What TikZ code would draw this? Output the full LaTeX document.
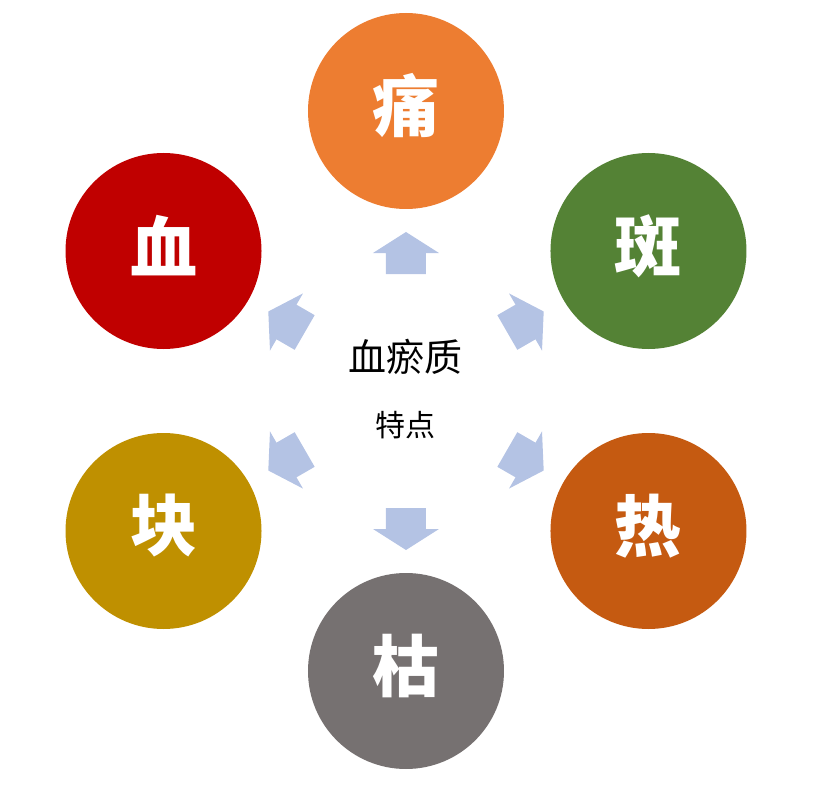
\documentclass[tikz,border=0pt]{standalone}
\usepackage{fontspec}
\setmainfont{Noto Sans CJK SC}
\definecolor{cOrange}{HTML}{ED7D31}
\definecolor{cGreen}{HTML}{548235}
\definecolor{cRust}{HTML}{C55A11}
\definecolor{cGray}{HTML}{767171}
\definecolor{cGold}{HTML}{BF9000}
\definecolor{cRed}{HTML}{C00000}
\definecolor{cArrow}{HTML}{B4C3E4}
\tikzset{
  ball/.style={circle, minimum size=196pt, inner sep=0pt, fill=#1},
  balltext/.style={text=white, font=\fontsize{67}{67}\selectfont\bfseries},
  blockarrow/.style={fill=cArrow, draw=none},
}
\begin{document}
\begin{tikzpicture}[x=1pt,y=1pt]
\useasboundingbox (-406,-410) rectangle (430,391);
\foreach \n/\a/\c/\t in {tong/90/cOrange/痛, ban/30/cGreen/斑, re/-30/cRust/热, ku/-90/cGray/枯, kuai/-150/cGold/块, xue/150/cRed/血}{
  \node[ball=\c] (\n) at (\a:280) {};
  \node[balltext] (\n-t) at ([yshift=5pt]\n.center) {\t};
}
\node[font=\fontsize{38}{38}\selectfont] (title) at (0,34) {血瘀质};
\node[font=\fontsize{30}{30}\selectfont] (sub) at (0,-34) {特点};
\foreach \a in {90,30,-30,-90,-150,150}{
  \begin{scope}[shift={(\a:138)}, rotate=\a-90]
    \fill[blockarrow] (-20,-21) -- (20,-21) -- (20,0) -- (33,0) -- (0,21) -- (-33,0) -- (-20,0) -- cycle;
  \end{scope}
}
\end{tikzpicture}
\end{document}
